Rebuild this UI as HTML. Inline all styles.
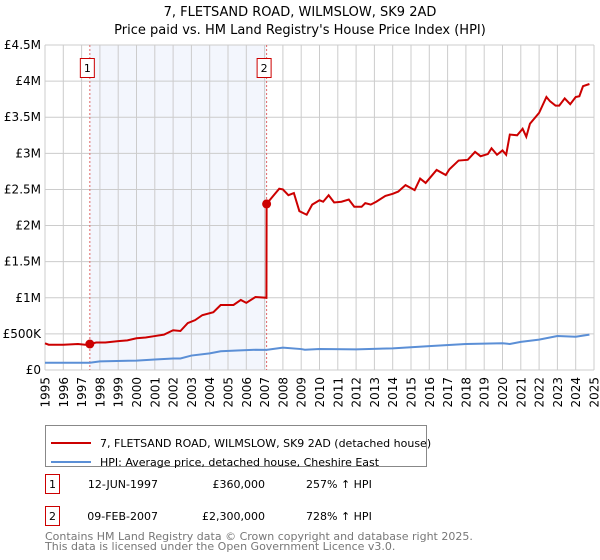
<!DOCTYPE html>
<html><head><meta charset="utf-8"><style>
body{margin:0;background:#fff;}
svg{display:block;font-family:"DejaVu Sans","Liberation Sans",sans-serif;}
</style></head><body>
<svg id="chart" width="600" height="560" xmlns="http://www.w3.org/2000/svg">
<text x="300" y="16" text-anchor="middle" font-size="13">7, FLETSAND ROAD, WILMSLOW, SK9 2AD</text>
<text x="300" y="34" text-anchor="middle" font-size="13">Price paid vs. HM Land Registry's House Price Index (HPI)</text>
<g id="plot"></g>
<g>
<rect x="45.5" y="425.5" width="381" height="41" fill="#fff" stroke="#888"/>
<line x1="51" y1="443" x2="91" y2="443" stroke="#cc0000" stroke-width="2"/>
<text x="100" y="447" font-size="11">7, FLETSAND ROAD, WILMSLOW, SK9 2AD (detached house)</text>
<line x1="51" y1="462" x2="91" y2="462" stroke="#5b8fd6" stroke-width="2"/>
<text x="100" y="466" font-size="11">HPI: Average price, detached house, Cheshire East</text>
</g>
<g font-size="11">
<rect x="45.5" y="474.5" width="14" height="19" fill="#fff" stroke="#cc0000"/>
<text x="52.5" y="488" text-anchor="middle">1</text>
<text x="158" y="488" text-anchor="end">12-JUN-1997</text>
<text x="265" y="488" text-anchor="end">£360,000</text>
<text x="306" y="488">257% ↑ HPI</text>
<rect x="45.5" y="506.5" width="14" height="19" fill="#fff" stroke="#cc0000"/>
<text x="52.5" y="520" text-anchor="middle">2</text>
<text x="158" y="520" text-anchor="end">09-FEB-2007</text>
<text x="265" y="520" text-anchor="end">£2,300,000</text>
<text x="306" y="520">728% ↑ HPI</text>
</g>
<text x="45" y="540" font-size="11" fill="#777">Contains HM Land Registry data © Crown copyright and database right 2025.</text>
<text x="45" y="550" font-size="11" fill="#777">This data is licensed under the Open Government Licence v3.0.</text>
</svg>
<script>
const yTicks=[0,500000,1000000,1500000,2000000,2500000,3000000,3500000,4000000,4500000];
const yTickLabels=["£0","£500K","£1M","£1.5M","£2M","£2.5M","£3M","£3.5M","£4M","£4.5M"];
const xYears=[1995,1996,1997,1998,1999,2000,2001,2002,2003,2004,2005,2006,2007,2008,2009,2010,2011,2012,2013,2014,2015,2016,2017,2018,2019,2020,2021,2022,2023,2024,2025];
const saleYears=[1997.45,2007.11];
const salePrices=[360000,2300000];
const saleLabels=["1","2"];
const propYears=[1995,1995.2,1996,1996.8,1997.2,1997.45,1997.8,1998.3,1999,1999.5,2000,2000.5,2001,2001.5,2002,2002.4,2002.8,2003.2,2003.6,2004.2,2004.6,2005.3,2005.7,2006,2006.5,2007.1,2007.11,2007.5,2007.8,2008,2008.3,2008.6,2008.9,2009.3,2009.6,2010,2010.2,2010.5,2010.8,2011.2,2011.6,2011.9,2012.3,2012.5,2012.8,2013.1,2013.6,2014,2014.3,2014.7,2015.2,2015.5,2015.8,2016.4,2016.9,2017.1,2017.6,2018.1,2018.5,2018.8,2019.2,2019.4,2019.7,2020,2020.2,2020.4,2020.8,2021.1,2021.3,2021.5,2022,2022.4,2022.6,2022.9,2023.1,2023.4,2023.7,2024,2024.2,2024.4,2024.75];
const propValues=[370000,350000,350000,360000,350000,360000,380000,380000,400000,410000,440000,450000,470000,490000,550000,540000,650000,690000,760000,800000,900000,900000,970000,930000,1010000,1000000,2300000,2420000,2510000,2500000,2420000,2450000,2200000,2150000,2290000,2350000,2330000,2420000,2320000,2330000,2360000,2260000,2260000,2310000,2290000,2330000,2410000,2440000,2470000,2560000,2490000,2650000,2590000,2770000,2700000,2780000,2900000,2910000,3020000,2960000,2990000,3070000,2980000,3040000,2980000,3260000,3250000,3340000,3230000,3410000,3560000,3780000,3720000,3660000,3660000,3760000,3680000,3780000,3790000,3930000,3960000];
const hpiYears=[1995,1997.45,1998,2000,2001,2002,2002.4,2003,2004,2004.6,2005.5,2006.5,2007.1,2008,2009,2009.2,2010,2012,2014,2016,2018,2020,2020.4,2021,2022,2023,2024,2024.75];
const hpiValues=[100000,101000,120000,130000,145000,160000,160000,200000,230000,260000,270000,280000,278000,310000,290000,280000,290000,285000,300000,330000,360000,370000,360000,390000,420000,470000,460000,490000];
const L=45,R=594,T=45,B=370;
const x=v=>L+(v-1995)/30*(R-L);
const y=v=>B-v/4500000*(B-T);
const NS="http://www.w3.org/2000/svg";
const g=document.getElementById('plot');
function mk(t,a){const e=document.createElementNS(NS,t);for(const k in a)e.setAttribute(k,a[k]);g.appendChild(e);return e;}
let r=mk('rect',{x:x(saleYears[0]),y:T,width:x(saleYears[1])-x(saleYears[0]),height:B-T,fill:'#f3f6fd'});


xYears.forEach(v=>{const l=mk('line',{x1:x(v),x2:x(v),y1:T,y2:B,stroke:'#cccccc'});


const t=mk('text',{x:0,y:0,'font-size':12,'text-anchor':'end',transform:`translate(${x(v)+4.5},${B+7}) rotate(-90)`});t.textContent=v;

});
yTicks.forEach((v,i)=>{const l=mk('line',{x1:L,x2:R,y1:y(v),y2:y(v),stroke:'#cccccc'});


const t=mk('text',{x:L-4,y:y(v)+4,'font-size':12,'text-anchor':'end'});t.textContent=yTickLabels[i];

});
saleYears.forEach((v,i)=>{const l=mk('line',{x1:x(v),x2:x(v),y1:T,y2:B,stroke:'#e06666','stroke-dasharray':'2,2'});


const b=mk('rect',{x:x(v)-9.5,y:58.5,width:14,height:19,fill:'#fff',stroke:'#cc0000'});


const t=mk('text',{x:x(v)-2.5,y:72,'font-size':11,'text-anchor':'middle'});t.textContent=saleLabels[i];

});
const hp=mk('polyline',{points:hpiYears.map((v,i)=>x(v)+','+y(hpiValues[i])).join(' '),fill:'none',stroke:'#5b8fd6','stroke-width':2});


const pp=mk('polyline',{points:propYears.map((v,i)=>x(v)+','+y(propValues[i])).join(' '),fill:'none',stroke:'#cc0000','stroke-width':2});


saleYears.forEach((v,i)=>{const c=mk('circle',{cx:x(v),cy:y(salePrices[i]),r:4.5,fill:'#cc0000'});

});
</script>
</body></html>
